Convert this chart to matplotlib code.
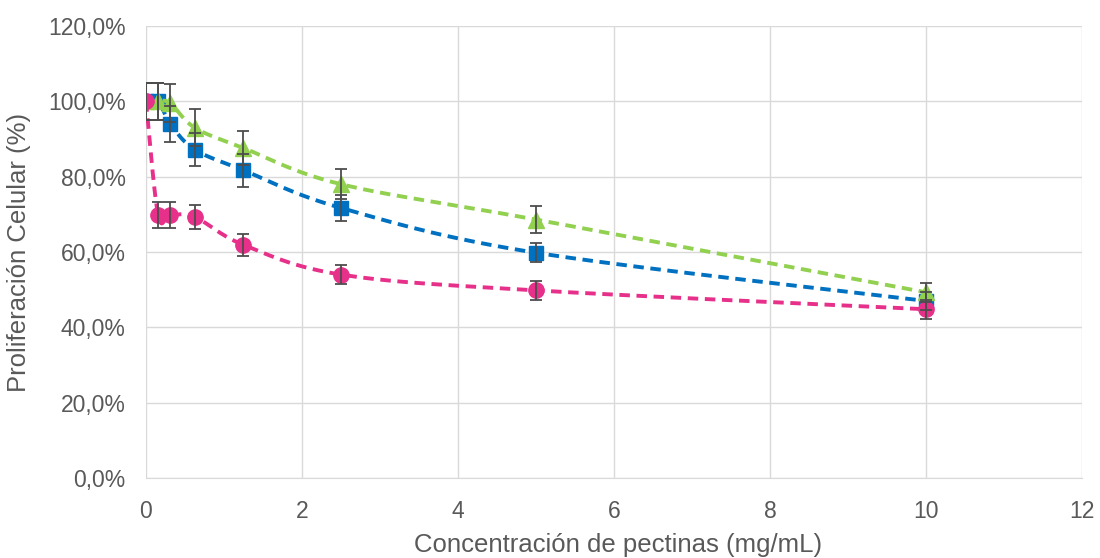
import numpy as np
import matplotlib
matplotlib.use("Agg")
import matplotlib.pyplot as plt
from matplotlib.ticker import FuncFormatter

conc = [0, 0.156, 0.3125, 0.625, 1.25, 2.5, 5, 10]
blue_vals = [100.0, 100.0, 94.0, 87.2, 81.7, 71.7, 59.8, 47.0]
blue_err = [5.0, 5.0, 4.7, 4.5, 4.4, 3.5, 2.5, 2.5]
green_vals = [100.0, 100.0, 99.5, 93.0, 87.6, 78.0, 68.6, 49.3]
green_err = [5.0, 5.0, 5.0, 4.9, 4.5, 4.0, 3.5, 2.5]
pink_vals = [100.0, 69.8, 69.8, 69.3, 61.9, 54.0, 49.8, 44.8]
pink_err = [5.0, 3.4, 3.4, 3.2, 3.0, 2.5, 2.5, 2.5]

x_ticks = [0, 2, 4, 6, 8, 10, 12]
y_ticks = [0, 20, 40, 60, 80, 100, 120]
x_label = "Concentración de pectinas (mg/mL)"
y_label = "Proliferación Celular (%)"

plt.rcParams['font.family'] = ['Liberation Sans', 'DejaVu Sans']


def smooth(xs, ys, n=30):
    # Excel-like smoothed line: cubic Bezier with Catmull-Rom control points
    xs = np.asarray(xs, float)
    ys = np.asarray(ys, float)
    px, py = [], []
    m = len(xs)
    for i in range(m - 1):
        p0 = (xs[max(i - 1, 0)], ys[max(i - 1, 0)])
        p1 = (xs[i], ys[i])
        p2 = (xs[i + 1], ys[i + 1])
        p3 = (xs[min(i + 2, m - 1)], ys[min(i + 2, m - 1)])
        c1 = (p1[0] + (p2[0] - p0[0]) / 6, p1[1] + (p2[1] - p0[1]) / 6)
        c2 = (p2[0] - (p3[0] - p1[0]) / 6, p2[1] - (p3[1] - p1[1]) / 6)
        t = np.linspace(0, 1, n)
        bx = (1 - t) ** 3 * p1[0] + 3 * (1 - t) ** 2 * t * c1[0] + 3 * (1 - t) * t ** 2 * c2[0] + t ** 3 * p2[0]
        by = (1 - t) ** 3 * p1[1] + 3 * (1 - t) ** 2 * t * c1[1] + 3 * (1 - t) * t ** 2 * c2[1] + t ** 3 * p2[1]
        px.extend(bx)
        py.extend(by)
    return np.array(px), np.array(py)


fig = plt.figure(figsize=(11, 5.58), dpi=100)
ax = fig.add_axes([0.1327, 0.1434, 0.8509, 0.81])

series = [
    (blue_vals, blue_err, "#0070C0", "s", 10.5),
    (green_vals, green_err, "#92D050", "^", 11.5),
    (pink_vals, pink_err, "#E6308A", "o", 11),
]
for k, (vals, err, col, mk, ms) in enumerate(series):
    sx, sy = smooth(conc, vals)
    ax.plot(sx, sy, color=col, lw=2.8, ls=(0, (2.7, 1.7)), zorder=3 + k * 0.1)
    ax.plot(conc, vals, ls="none", marker=mk, ms=ms, color=col, mec=col, zorder=3.05 + k * 0.1)
    ax.errorbar(conc, vals, yerr=err, fmt="none", ecolor="#4D4D4D", elinewidth=1.3,
                capsize=4.5, capthick=1.3, zorder=5)

ax.set_xlim(0, 12)
ax.set_ylim(0, 120)
ax.set_xticks(x_ticks)
ax.set_yticks(y_ticks)
ax.yaxis.set_major_formatter(FuncFormatter(lambda v, p: f"{v:.1f}%".replace(".", ",")))
ax.grid(True, color="#D9D9D9", lw=1.0, zorder=0)
ax.set_axisbelow(True)
for s in ["top", "right", "left"]:
    ax.spines[s].set_visible(False)
ax.spines["bottom"].set_color("#D9D9D9")
ax.tick_params(length=0, labelsize=16.5, colors="#595959")
ax.tick_params(axis="x", pad=15.5)
ax.tick_params(axis="y", pad=14.5)

fig.text(618 / 1100, 1 - 552 / 558, x_label, fontsize=18.5, color="#595959",
         ha="center", va="baseline")
fig.text(19 / 1100, 1 - 252 / 558, y_label, fontsize=18.5, color="#595959",
         ha="center", va="center", rotation=90)

fig.savefig("out.png", dpi=100)
